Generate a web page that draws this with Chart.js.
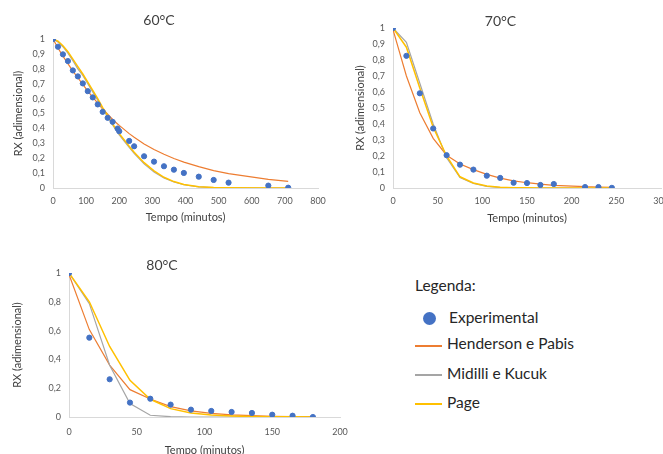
<!DOCTYPE html>
<html>
<head>
<meta charset="utf-8">
<script src="https://cdn.jsdelivr.net/npm/chart.js@4.4.0/dist/chart.umd.min.js"></script>
<style>
html, body { margin: 0; padding: 0; width: 663px; height: 454px; overflow: hidden; background: #fff; }
body { position: relative; font-family: Lato, sans-serif; color: #262626; }
.box { position: absolute; }
.lg { position: absolute; font-size: 15.5px; line-height: 18px; white-space: nowrap; }
.sw { position: absolute; width: 27px; height: 2px; }
.dot { position: absolute; width: 13px; height: 13px; border-radius: 50%; background: #4472C4; }
</style>
</head>
<body>

<div class="box" style="left:0;top:0;width:350px;height:230px"><canvas id="c60"></canvas></div>
<div class="box" style="left:340px;top:0;width:366px;height:230px"><canvas id="c70"></canvas></div>
<div class="box" style="left:-16px;top:245px;width:376px;height:225px"><canvas id="c80"></canvas></div>

<div class="lg" style="left:415px;top:276px">Legenda:</div>
<div class="dot" style="left:423px;top:312px"></div>
<div class="lg" style="left:449px;top:308px">Experimental</div>
<div class="sw" style="left:415px;top:345px;background:#ED7D31"></div>
<div class="lg" style="left:447px;top:334px">Henderson e Pabis</div>
<div class="sw" style="left:415px;top:374px;background:#A5A5A5"></div>
<div class="lg" style="left:447px;top:364px">Midilli e Kucuk</div>
<div class="sw" style="left:415px;top:403px;background:#FFC000"></div>
<div class="lg" style="left:447px;top:393px">Page</div>

<script>
// tempos (minutos) e RX
const t60 = [0, 15, 30, 45, 60, 75, 90, 105, 120, 135, 150, 165, 180, 195, 200, 230, 245, 275, 305, 335, 365, 395, 440, 485, 530, 650, 710];
const exp60 = [1, 0.948, 0.897, 0.852, 0.789, 0.749, 0.702, 0.650, 0.608, 0.561, 0.511, 0.471, 0.444, 0.399, 0.381, 0.316, 0.280, 0.213, 0.177, 0.146, 0.123, 0.101, 0.076, 0.054, 0.036, 0.016, 0.002];
const hp60 = [1, 0.94, 0.885, 0.835, 0.785, 0.74, 0.695, 0.65, 0.61, 0.57, 0.53, 0.495, 0.46, 0.43, 0.42, 0.365, 0.34, 0.295, 0.258, 0.226, 0.198, 0.174, 0.143, 0.117, 0.096, 0.058, 0.045];
const mk60 = [1, 0.98, 0.948, 0.905, 0.855, 0.80, 0.755, 0.70, 0.645, 0.59, 0.532, 0.477, 0.423, 0.373, 0.357, 0.272, 0.232, 0.162, 0.108, 0.067, 0.04, 0.022, 0.008, 0.003, 0.001, 0, 0];
const page60 = [1, 0.985, 0.955, 0.915, 0.865, 0.815, 0.765, 0.71, 0.655, 0.60, 0.54, 0.485, 0.43, 0.38, 0.365, 0.28, 0.24, 0.17, 0.115, 0.072, 0.043, 0.024, 0.009, 0.003, 0.001, 0, 0];

const t70 = [0, 15, 30, 45, 60, 75, 90, 105, 120, 135, 150, 165, 180, 215, 230, 245];
const exp70 = [1, 0.826, 0.592, 0.372, 0.205, 0.146, 0.115, 0.077, 0.063, 0.033, 0.031, 0.019, 0.025, 0.006, 0.006, 0.001];
const hp70 = [0.99, 0.70, 0.47, 0.31, 0.205, 0.15, 0.115, 0.085, 0.062, 0.045, 0.033, 0.024, 0.017, 0.008, 0.006, 0.004];
const mk70 = [1, 0.91, 0.655, 0.40, 0.19, 0.065, 0.028, 0.01, 0.003, 0.001, 0, 0, 0, 0, 0, 0];
const page70 = [1, 0.88, 0.625, 0.38, 0.20, 0.07, 0.031, 0.012, 0.005, 0.002, 0.001, 0, 0, 0, 0, 0];

const t80 = [0, 15, 30, 45, 60, 75, 90, 105, 120, 135, 150, 165, 180];
const exp80 = [1, 0.551, 0.262, 0.10, 0.127, 0.086, 0.051, 0.042, 0.035, 0.028, 0.016, 0.009, 0.0];
const hp80 = [0.99, 0.607, 0.36, 0.19, 0.125, 0.072, 0.043, 0.025, 0.015, 0.009, 0.005, 0.003, 0.002];
const mk80 = [1, 0.787, 0.36, 0.093, 0.012, 0.002, 0, 0, 0, 0, 0, 0, 0];
const page80 = [1, 0.80, 0.49, 0.255, 0.123, 0.058, 0.028, 0.014, 0.007, 0.003, 0.002, 0.001, 0];

const xTitle = 'Tempo (minutos)';
const yTitle = 'RX (adimensional)';

Chart.defaults.font.family = 'Lato, sans-serif';
Chart.defaults.color = '#595959';

function pts(xs, ys) {
    return xs.map((x, i) => ({ x: x, y: ys[i] }));
}

function comma(v) {
    return String(Math.round(v * 10) / 10).replace('.', ',');
}

// g = layout numbers for each panel
function makeChart(id, title, t, ex, hp, mk, pg, g) {
    new Chart(document.getElementById(id), {
        type: 'scatter',
        data: {
            datasets: [
                { label: 'Experimental', data: pts(t, ex), backgroundColor: '#4472C4', borderColor: '#4472C4', pointRadius: 2.6, showLine: false },
                { label: 'Page', data: pts(t, pg), borderColor: '#FFC000', borderWidth: 1.5, pointRadius: 0, showLine: true },
                { label: 'Midilli e Kucuk', data: pts(t, mk), borderColor: '#A5A5A5', borderWidth: 1.2, pointRadius: 0, showLine: true },
                { label: 'Henderson e Pabis', data: pts(t, hp), borderColor: '#ED7D31', borderWidth: 1.2, pointRadius: 0, showLine: true }
            ]
        },
        options: {
            responsive: true,
            maintainAspectRatio: false,
            animation: false,
            layout: { padding: { left: 0, top: 0, bottom: 0, right: g.padRight } },
            scales: {
                x: {
                    type: 'linear',
                    min: 0,
                    max: g.xMax,
                    ticks: { stepSize: g.xStep, padding: g.tickPad, font: { size: 9 } },
                    grid: { display: false, drawTicks: false },
                    border: { display: true, color: '#d9d9d9' },
                    title: { display: true, text: xTitle, color: '#404040', font: { size: 11 }, padding: { top: 0, bottom: g.xTitlePad } },
                    afterFit: function (s) { s.height = g.xHeight; }
                },
                y: {
                    min: 0,
                    max: 1,
                    ticks: { stepSize: g.yStep, padding: 8, font: { size: 9 }, callback: comma },
                    grid: { display: false, drawTicks: false },
                    border: { display: true, color: '#d9d9d9' },
                    title: { display: true, text: yTitle, color: '#404040', font: { size: 11 }, padding: { top: g.yTitlePad, bottom: 0 } },
                    afterFit: function (s) { s.width = g.yWidth; }
                }
            },
            plugins: {
                legend: { display: false },
                tooltip: { enabled: false },
                title: {
                    display: true,
                    text: title,
                    color: '#404040',
                    font: { size: 14, weight: 'normal', lineHeight: 1 },
                    padding: { top: g.titleTop, bottom: g.titleBottom }
                }
            }
        }
    });
}

makeChart('c60', '60°C', t60, exp60, hp60, mk60, page60,
    { xMax: 800, xStep: 100, yStep: 0.1, padRight: 32, yWidth: 53, xHeight: 42, tickPad: 8, xTitlePad: 6.4, yTitlePad: 11.4, titleTop: 13, titleBottom: 12 });

makeChart('c70', '70°C', t70, exp70, hp70, mk70, page70,
    { xMax: 300, xStep: 50, yStep: 0.1, padRight: 45, yWidth: 53, xHeight: 42, tickPad: 8, xTitlePad: 5.4, yTitlePad: 13.4, titleTop: 14, titleBottom: 0 });

makeChart('c80', '80°C', t80, exp80, hp80, mk80, page80,
    { xMax: 200, xStep: 50, yStep: 0.2, padRight: 20, yWidth: 85, xHeight: 53, tickPad: 10, xTitlePad: 13.4, yTitlePad: 27, titleTop: 13, titleBottom: 1 });
</script>
</body>
</html>
